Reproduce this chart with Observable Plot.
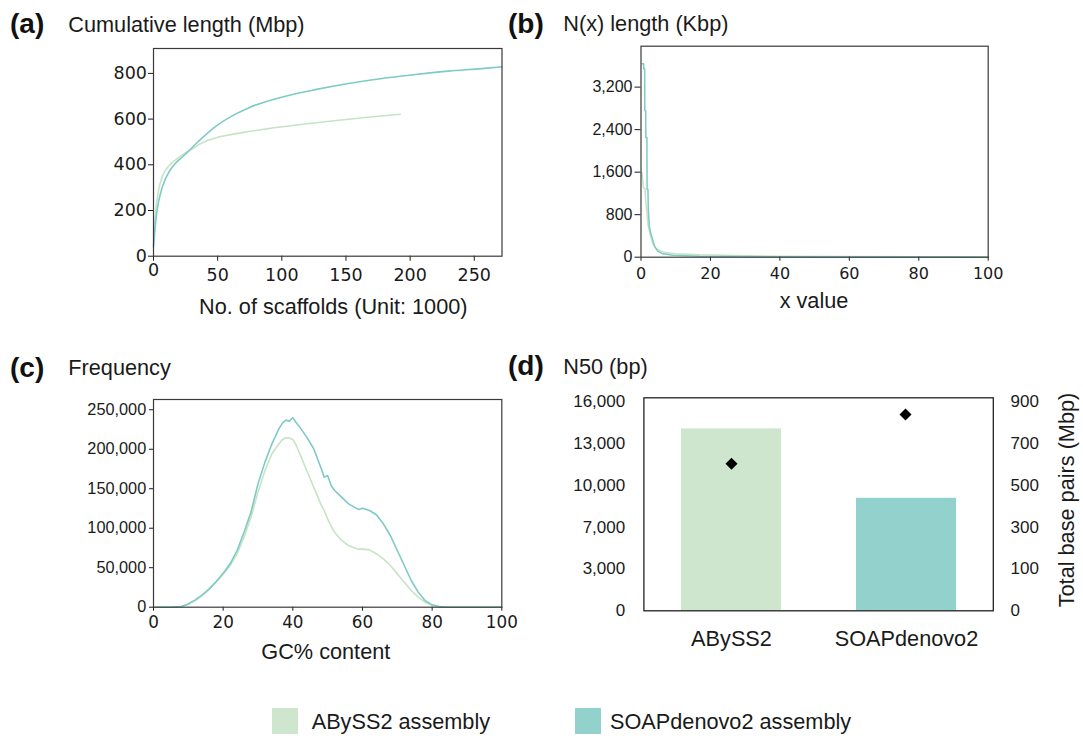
<!DOCTYPE html>
<html>
<head>
<meta charset="utf-8">
<script src="https://cdn.jsdelivr.net/npm/d3@7"></script>
<script src="https://cdn.jsdelivr.net/npm/@observablehq/plot@0.6"></script>
<style>
  body { margin: 0; background: #fff; }
  #root { position: relative; width: 1083px; height: 738px; overflow: hidden; background: #fff; }
</style>
</head>
<body>
<div id="root"></div>
<script>
// ---------------- DATA ----------------
const assemblies = ["ABySS2", "SOAPdenovo2"];
const legendLabels = ["ABySS2 assembly", "SOAPdenovo2 assembly"];
const barColors = ["#cde6cd", "#93d1cd"];
const lineColors = ["#c6e4c4", "#7ecac6"];

// (a) cumulative length (Mbp) vs number of scaffolds (thousands)
const cumScaffoldsAbyss = [0, 1, 2.5, 4, 6, 8, 12, 17, 22, 26, 30, 35, 42, 50, 60, 70, 87, 113, 139, 165, 192.3];
const cumLengthAbyss    = [50, 150, 235, 290, 335, 363, 396, 421, 441, 455, 469, 487, 506, 520, 532, 542, 556, 575, 592, 607, 621];
const cumScaffoldsSoap  = [0, 1, 2.5, 4, 6, 8, 12, 17, 22, 26, 35, 48, 61, 74, 100, 126, 152, 178, 204, 230, 256, 271.6];
const cumLengthSoap     = [40, 110, 190, 240, 285, 320, 368, 406, 432, 453, 502, 566, 613, 649, 696, 729, 756, 778, 795, 810, 821, 829];
const cumTicksX = [0, 50, 100, 150, 200, 250];
const cumTicksY = [0, 200, 400, 600, 800];

// (b) N(x) length (Kbp)
const nxXAbyss   = [0.3, 0.7, 1.2, 1.3, 1.55, 2.0, 2.6, 3.4, 4.3, 5.8, 7.2, 10.1, 16.9, 26.6, 40, 60, 80, 100];
const nxLenAbyss = [1594, 1310, 1280, 1100, 932, 617, 428, 252, 164, 113, 82, 63, 44, 31, 20, 12, 7, 2];
const nxXSoap    = [0.3, 0.75, 0.8, 1.05, 1.1, 1.35, 1.4, 1.7, 1.75, 2.0, 2.1, 2.4, 2.8, 3.2, 3.9, 4.8, 6.3, 9.2, 16.9, 26.6, 40, 60, 80, 100];
const nxLenSoap  = [3640, 3640, 3547, 3547, 2760, 2760, 2250, 2250, 1280, 1280, 900, 590, 450, 365, 208, 113, 63, 38, 19, 13, 8, 5, 3, 1];
const nxTicksX = [0, 20, 40, 60, 80, 100];
const nxTicksY = [0, 800, 1600, 2400, 3200];

// (c) GC% content frequency
const gcContent   = [0, 5, 8, 10, 12, 14, 16, 18, 20, 22, 24, 26, 28, 30, 32, 34, 36, 37, 38, 39, 40, 41, 42, 44, 46, 48, 49, 50, 51, 52, 54, 56, 58, 59, 60, 62, 64, 66, 68, 70, 72, 74, 76, 78, 80, 82, 85, 90, 100];
const gcFreqAbyss = [0, 0, 800, 3800, 8400, 14800, 22400, 31700, 41800, 52800, 67600, 88700, 114000, 145700, 173100, 194300, 206900, 212400, 214500, 214100, 212400, 204800, 194300, 173100, 152000, 130900, 122500, 111900, 102200, 95000, 84500, 78100, 74700, 73500, 73500, 72600, 67600, 61200, 52800, 42200, 31700, 21100, 12700, 6300, 2100, 400, 0, 0, 0];
const gcFreqSoap  = [0, 0, 800, 4200, 9300, 15600, 23200, 32500, 43100, 54900, 71800, 95000, 120400, 156200, 183700, 206900, 225900, 233100, 236900, 235600, 239900, 233500, 228000, 215400, 200600, 177400, 164700, 166800, 154100, 147800, 139400, 130900, 125800, 123700, 125400, 122500, 117000, 105600, 90800, 71800, 52800, 33800, 19000, 8400, 3000, 800, 0, 0, 0];
const gcTicksX = [0, 20, 40, 60, 80, 100];
const gcTicksY = [0, 50000, 100000, 150000, 200000, 250000];

// (d) N50 (bp) bars and total base pairs (Mbp) diamonds
const n50Values = [13920, 8610];
const totalBpValues = [633, 845];
const n50TickValues = [0, 3200, 6400, 9600, 12800, 16000];
const n50TickLabels = ["0", "3,000", "7,000", "10,000", "13,000", "16,000"];
const totalTickValues = [0, 180, 360, 540, 720, 900];
const totalTickLabels = ["0", "100", "300", "500", "700", "900"];

// ---------------- TABLES ----------------
const cumTable = [
  ...cumScaffoldsAbyss.map((x, i) => ({assembly: assemblies[0], x, y: cumLengthAbyss[i]})),
  ...cumScaffoldsSoap.map((x, i) => ({assembly: assemblies[1], x, y: cumLengthSoap[i]}))
];
const nxTable = [
  ...nxXAbyss.map((x, i) => ({assembly: assemblies[0], x, y: nxLenAbyss[i]})),
  ...nxXSoap.map((x, i) => ({assembly: assemblies[1], x, y: nxLenSoap[i]}))
];
const gcTable = [
  ...gcContent.map((x, i) => ({assembly: assemblies[0], x, y: gcFreqAbyss[i]})),
  ...gcContent.map((x, i) => ({assembly: assemblies[1], x, y: gcFreqSoap[i]}))
];
const dTable = assemblies.map((a, i) => ({assembly: a, n50: n50Values[i], total: totalBpValues[i]}));

// ---------------- STYLE ----------------
const ARIAL = "'Liberation Sans', Arial, Helvetica, sans-serif";
const DEJAVU = "'DejaVu Sans', sans-serif";
const TXT = "#1a1a1a";
const FRAME = "#3a3a3a";
const root = document.getElementById("root");

function place(el, left, top) {
  el.style.position = "absolute";
  el.style.left = left + "px";
  el.style.top = top + "px";
  root.append(el);
}

// ---------------- (a) ----------------
const plotA = Plot.plot({
  width: 541, height: 330,
  marginLeft: 153, marginRight: 39.5, marginTop: 48, marginBottom: 74.3,
  style: {background: "transparent", color: TXT, fontFamily: DEJAVU, fontSize: "17.5px"},
  x: {domain: [0, 271.6]},
  y: {domain: [0, 909]},
  color: {domain: assemblies, range: lineColors},
  marks: [
    Plot.line(cumTable, {x: "x", y: "y", z: "assembly", stroke: "assembly", strokeWidth: 1.6, curve: "monotone-x"}),
    Plot.axisY({ticks: cumTicksY, tickSize: 5, tickPadding: 1.5, label: null, fontFamily: DEJAVU, fontSize: 17.5}),
    Plot.axisX({ticks: cumTicksX.filter(t => t !== 0), tickSize: 5, tickPadding: 7, label: null, fontFamily: DEJAVU, fontSize: 17.5}),
    Plot.axisX({ticks: [0], tickSize: 5, tickPadding: 2, label: null, fontFamily: DEJAVU, fontSize: 17.5}),
    Plot.frame({stroke: FRAME, strokeWidth: 1.2})
  ]
});
place(plotA, 0, 0);

// ---------------- (b) ----------------
const plotB = Plot.plot({
  width: 542, height: 330,
  marginLeft: 99.5, marginRight: 95.3, marginTop: 45.7, marginBottom: 73.3,
  style: {background: "transparent", color: TXT, fontFamily: ARIAL, fontSize: "16px"},
  x: {domain: [0, 100]},
  y: {domain: [0, 3970]},
  color: {domain: assemblies, range: lineColors},
  marks: [
    Plot.line(nxTable, {x: "x", y: "y", z: "assembly", stroke: "assembly", strokeWidth: 1.5}),
    Plot.axisY({ticks: nxTicksY, tickSize: 6, tickPadding: 2.5, label: null, tickFormat: d3.format(","), fontFamily: ARIAL, fontSize: 16}),
    Plot.axisX({ticks: nxTicksX, tickSize: 4, tickPadding: 6, label: null, fontFamily: DEJAVU, fontSize: 16}),
    Plot.frame({stroke: FRAME, strokeWidth: 1.2})
  ]
});
place(plotB, 541, 0);

// ---------------- (c) ----------------
const plotC = Plot.plot({
  width: 541, height: 340,
  marginLeft: 153, marginRight: 39.7, marginTop: 69, marginBottom: 63.3,
  style: {background: "transparent", color: TXT, fontFamily: ARIAL, fontSize: "16px"},
  x: {domain: [0, 100]},
  y: {domain: [0, 263000]},
  color: {domain: assemblies, range: lineColors},
  marks: [
    Plot.line(gcTable, {x: "x", y: "y", z: "assembly", stroke: "assembly", strokeWidth: 1.6}),
    Plot.axisY({ticks: gcTicksY, tickSize: 4, tickPadding: 3.3, label: null, tickFormat: d3.format(","), fontFamily: ARIAL, fontSize: 16.3}),
    Plot.axisX({ticks: gcTicksX, tickSize: 4, tickPadding: 4.5, label: null, fontFamily: DEJAVU, fontSize: 16.8}),
    Plot.frame({stroke: FRAME, strokeWidth: 1.2})
  ]
});
place(plotC, 0, 330);

// ---------------- (d) bars ----------------
const dX = {domain: assemblies, paddingInner: 0.43, paddingOuter: 0.21};
const plotD = Plot.plot({
  width: 542, height: 340,
  marginLeft: 102.4, marginRight: 90.2, marginTop: 67.3, marginBottom: 59.7,
  style: {background: "transparent", color: TXT, fontFamily: ARIAL, fontSize: "17px"},
  x: dX,
  y: {domain: [0, 16300]},
  color: {domain: assemblies, range: barColors},
  marks: [
    Plot.barY(dTable, {x: "assembly", y: "n50", fill: "assembly"}),
    Plot.axisY({ticks: n50TickValues, tickFormat: d => n50TickLabels[n50TickValues.indexOf(d)], tickSize: 0, tickPadding: 18.7, label: null, fontFamily: ARIAL, fontSize: 17}),
    Plot.axisX({tickSize: 0, tickPadding: 19.7, label: null, fontFamily: ARIAL, fontSize: 21.7}),
    Plot.frame({stroke: "#222", strokeWidth: 1.3})
  ]
});
place(plotD, 541, 330);

// ---------------- (d) diamonds on right axis ----------------
const plotD2 = Plot.plot({
  width: 542, height: 340,
  marginLeft: 102.4, marginRight: 90.2, marginTop: 67.3, marginBottom: 59.7,
  style: {background: "transparent", color: TXT, fontFamily: ARIAL, fontSize: "17px", pointerEvents: "none"},
  x: {...dX, axis: null},
  y: {domain: [0, 900 * 16300 / 16000]},
  marks: [
    Plot.dot(dTable, {x: "assembly", y: "total", symbol: "diamond2", r: 5.4, fill: "#000", stroke: "none"}),
    Plot.axisY({anchor: "right", ticks: totalTickValues, tickFormat: d => totalTickLabels[totalTickValues.indexOf(d)], tickSize: 0, tickPadding: 17.2, label: null, fontFamily: ARIAL, fontSize: 17})
  ]
});
place(plotD2, 541, 330);

// ---------------- Text overlay: titles, axis labels, legend ----------------
const overlay = d3.create("svg")
  .attr("width", 1083).attr("height", 738)
  .style("pointer-events", "none")
  .attr("font-family", ARIAL)
  .attr("fill", TXT);

const panelTags = [
  {t: "(a)", x: 10, y: 33}, {t: "(b)", x: 508, y: 33},
  {t: "(c)", x: 10, y: 377}, {t: "(d)", x: 508, y: 375}
];
const panelTitles = [
  {t: "Cumulative length (Mbp)", x: 68.3, y: 31.5},
  {t: "N(x) length (Kbp)", x: 563.3, y: 31},
  {t: "Frequency", x: 68.3, y: 374.5},
  {t: "N50 (bp)", x: 563.3, y: 373.5}
];
overlay.selectAll("text.tag").data(panelTags).join("text")
  .attr("class", "tag").attr("x", d => d.x).attr("y", d => d.y)
  .attr("font-size", 28).attr("font-weight", "bold").attr("fill", "#111").text(d => d.t);
overlay.selectAll("text.ttl").data(panelTitles).join("text")
  .attr("class", "ttl").attr("x", d => d.x).attr("y", d => d.y)
  .attr("font-size", 21.7).text(d => d.t);

const axisTitles = [
  {t: "No. of scaffolds (Unit: 1000)", x: 333.3, y: 314},
  {t: "x value", x: 814, y: 308},
  {t: "GC% content", x: 325.8, y: 659}
];
overlay.selectAll("text.ax").data(axisTitles).join("text")
  .attr("class", "ax").attr("x", d => d.x).attr("y", d => d.y)
  .attr("text-anchor", "middle").attr("font-size", 21.7).text(d => d.t);

overlay.append("text")
  .attr("transform", "translate(1066,500) rotate(-90)")
  .attr("text-anchor", "middle").attr("dy", "0.35em")
  .attr("font-size", 21.7).text("Total base pairs (Mbp)");

const legendPos = [{sx: 272, tx: 311.7}, {sx: 575, tx: 610}];
legendLabels.forEach((lab, i) => {
  overlay.append("rect").attr("x", legendPos[i].sx).attr("y", 708).attr("width", 26).attr("height", 26).attr("fill", barColors[i]);
  overlay.append("text").attr("x", legendPos[i].tx).attr("y", 729).attr("font-size", 21.7).text(lab);
});

place(overlay.node(), 0, 0);
</script>
</body>
</html>
